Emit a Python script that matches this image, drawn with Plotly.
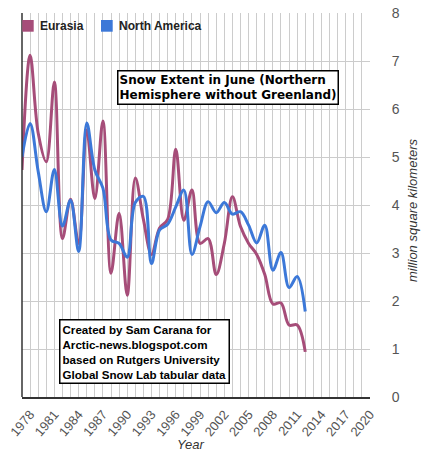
import plotly.graph_objects as go

years = list(range(1977, 2013))
eurasia = [4.73, 7.12, 5.50, 4.90, 6.56, 3.30, 4.12, 3.20, 5.56, 4.13,
           5.75, 2.58, 3.83, 2.12, 4.56, 3.70, 2.97, 3.52, 3.70, 5.16,
           3.68, 4.31, 3.20, 3.30, 2.55, 3.20, 4.17, 3.55, 3.20, 2.97,
           2.55, 1.94, 1.96, 1.50, 1.50, 0.94]
north_america = [5.00, 5.70, 4.70, 3.86, 4.74, 3.56, 4.10, 3.03, 5.71, 4.73,
                 4.35, 3.27, 3.20, 2.91, 4.05, 4.18, 2.78, 3.48, 3.60, 3.96,
                 4.31, 2.97, 3.55, 4.07, 3.84, 4.05, 3.81, 3.86, 3.58, 3.21,
                 3.58, 2.64, 3.01, 2.28, 2.51, 1.78]
x_ticks = list(range(1978, 2021, 3))
y_ticks = list(range(0, 9))

c_eu = "#a64d79"
c_na = "#3c78d8"
font = "Liberation Sans, Arial, sans-serif"

fig = go.Figure()
fig.add_trace(go.Scatter(x=years, y=eurasia, name="Eurasia", mode="lines",
                         line=dict(color=c_eu, width=3, shape="spline", smoothing=1.0),
                         showlegend=False))
fig.add_trace(go.Scatter(x=years, y=north_america, name="North America", mode="lines",
                         line=dict(color=c_na, width=3, shape="spline", smoothing=1.0),
                         showlegend=False))

W, H = 430, 459
L, R, T, B = 22, 370, 13, 397


def px(xp):
    return (xp - L) / (R - L)


def py(yp):
    return (B - yp) / (B - T)


shapes = [
    dict(type="line", xref="paper", yref="paper", x0=0, x1=0, y0=0, y1=1,
         line=dict(color="#333333", width=1.5)),
    dict(type="rect", xref="paper", yref="paper", x0=px(22.3), x1=px(33.7),
         y0=py(31.7), y1=py(20), fillcolor=c_eu, line=dict(width=0)),
    dict(type="rect", xref="paper", yref="paper", x0=px(101), x1=px(112.7),
         y0=py(31.7), y1=py(20), fillcolor=c_na, line=dict(width=0)),
]

annotations = [
    dict(text="<b>Eurasia</b>", xref="paper", yref="paper", x=px(37.5), y=py(25.8),
         xanchor="left", yanchor="middle", showarrow=False,
         font=dict(family=font, size=12, color="#222222")),
    dict(text="<b>North America</b>", xref="paper", yref="paper", x=px(116.5), y=py(25.8),
         xanchor="left", yanchor="middle", showarrow=False,
         font=dict(family=font, size=12, color="#222222")),
    dict(text="<b>Snow Extent in June (Northern<br>Hemisphere without Greenland)</b>",
         xref="paper", yref="paper", x=px(228), y=py(87.2), xanchor="center", yanchor="middle",
         showarrow=False, align="left", bgcolor="white", bordercolor="black", borderwidth=1.5,
         borderpad=1, font=dict(family="DejaVu Sans, Verdana, sans-serif", size=12, color="black")),
    dict(text="<b>Created by Sam Carana for<br>Arctic-news.blogspot.com<br>"
              "based on Rutgers University<br>Global Snow Lab tabular data</b>",
         xref="paper", yref="paper", x=px(144), y=py(351.3), xanchor="center", yanchor="middle",
         showarrow=False, align="left", bgcolor="white", bordercolor="black", borderwidth=1.5,
         borderpad=2, font=dict(family=font, size=11.6, color="black")),
    dict(text="<i>Year</i>", xref="paper", yref="paper", x=px(190), y=py(444),
         xanchor="center", yanchor="middle", showarrow=False,
         font=dict(family=font, size=13, color="#333333")),
    dict(text="<i>million square kilometers</i>", xref="paper", yref="paper",
         x=px(413), y=py(210), xanchor="center", yanchor="middle", textangle=-90,
         showarrow=False, font=dict(family=font, size=13, color="#333333")),
]

fig.update_layout(
    width=W, height=H,
    margin=dict(l=L, r=W - R, t=T, b=H - B, pad=0, autoexpand=False),
    paper_bgcolor="white", plot_bgcolor="white",
    shapes=shapes, annotations=annotations,
    xaxis=dict(range=[1977, 2020], tickvals=x_ticks, ticktext=[str(v) for v in x_ticks],
               tickangle=-50, showgrid=True, gridcolor="#cccccc", gridwidth=1,
               minor=dict(tick0=1977, dtick=1, showgrid=True, gridcolor="#cccccc", gridwidth=1),
               showline=True, linecolor="#333333", linewidth=1.5, zeroline=False,
               ticks="outside", ticklen=3, tickcolor="rgba(0,0,0,0)", automargin=False,
               tickfont=dict(family=font, size=13, color="#555555")),
    yaxis=dict(range=[0, 8], tickvals=y_ticks, side="right", showgrid=True,
               gridcolor="#cccccc", gridwidth=1, zeroline=False, showline=False,
               ticks="outside", ticklen=18, tickcolor="rgba(0,0,0,0)", automargin=False,
               tickfont=dict(family=font, size=14, color="#555555")),
)

fig.write_html("out.html", config={"displayModeBar": False},
               post_script="document.body.style.margin='0';")
